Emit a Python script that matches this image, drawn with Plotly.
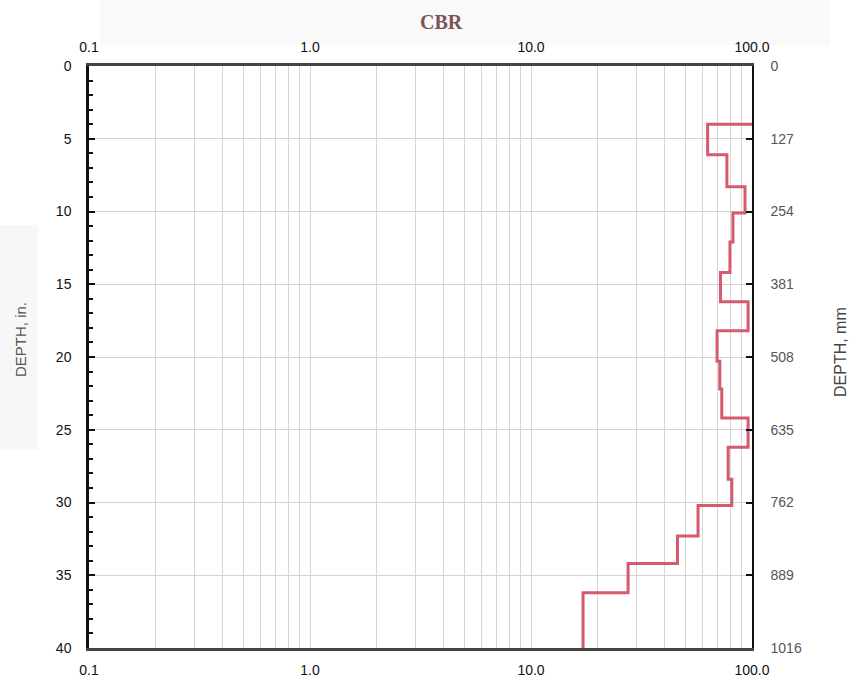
import plotly.graph_objects as go

# CBR profile by layer (depth in inches, CBR in %)
layer_top_in = [4.0, 6.1, 8.3, 10.1, 12.1, 14.2, 16.2, 18.2, 20.3, 22.2,
                24.2, 26.2, 28.4, 30.2, 32.3, 34.2, 36.2]
layer_bottom_in = [6.1, 8.3, 10.1, 12.1, 14.2, 16.2, 18.2, 20.3, 22.2, 24.2,
                   26.2, 28.4, 30.2, 32.3, 34.2, 36.2, 40.0]
layer_cbr = [63, 77, 93, 82, 79.5, 72, 96, 69.5, 71.5, 73,
             96, 78, 81, 57, 46, 27.5, 17.2]

# axis ticks
depth_ticks_in = [0, 5, 10, 15, 20, 25, 30, 35, 40]
depth_ticks_mm = [0, 127, 254, 381, 508, 635, 762, 889, 1016]
cbr_decades = [0.1, 1.0, 10.0, 100.0]
cbr_decade_labels = ["0.1", "1.0", "10.0", "100.0"]

CBR_MIN, CBR_MAX = 0.1, 100.0
DEPTH_MAX_IN = 40
MM_PER_IN = 25.4

# log grid values 0.1..100 with labels on decades only
grid_vals, grid_text = [], []
for d, lab in zip(cbr_decades[:-1], cbr_decade_labels[:-1]):
    for k in range(1, 10):
        grid_vals.append(round(d * k, 6))
        grid_text.append(lab if k == 1 else "")
grid_vals.append(cbr_decades[-1])
grid_text.append(cbr_decade_labels[-1])

# step path: profile enters from the right edge at the first layer top
xs, ys = [CBR_MAX], [layer_top_in[0]]
for top, bot, v in zip(layer_top_in, layer_bottom_in, layer_cbr):
    xs += [v, v]
    ys += [top, bot]

fig = go.Figure()
fig.add_trace(go.Scatter(x=xs, y=ys, mode="lines",
                         line=dict(color="#d35b6c", width=3),
                         showlegend=False, hoverinfo="skip"))
# invisible trace to activate the secondary axes
fig.add_trace(go.Scatter(x=[CBR_MIN], y=[0], xaxis="x2", yaxis="y2",
                         mode="markers", marker=dict(opacity=0),
                         showlegend=False, hoverinfo="skip"))

SANS = "Liberation Sans, Arial, sans-serif"
tick_font = dict(family=SANS, size=14, color="#111")

fig.update_layout(
    width=852, height=681,
    margin=dict(l=89, r=100, t=66, b=33),
    paper_bgcolor="white", plot_bgcolor="white",
    xaxis=dict(type="log", range=[-1, 2], tickvals=grid_vals, ticktext=grid_text,
               showgrid=True, gridcolor="#d6d6d6", gridwidth=1,
               showline=True, linecolor="#444", linewidth=2.5, mirror=False,
               ticks="", tickfont=tick_font, ticklabelstandoff=7,
               automargin=False, zeroline=False),
    xaxis2=dict(type="log", range=[-1, 2], overlaying="x", side="top",
                tickvals=cbr_decades, ticktext=cbr_decade_labels,
                showgrid=False, showline=True, linecolor="#444", linewidth=2.5,
                ticks="", tickfont=tick_font, ticklabelstandoff=6,
                automargin=False, anchor="y"),
    yaxis=dict(range=[DEPTH_MAX_IN, 0], tickvals=depth_ticks_in,
               showgrid=True, gridcolor="#d2d2d2", gridwidth=1,
               showline=True, linecolor="#111", linewidth=2.5,
               ticks="inside", ticklen=6, tickwidth=1.5, tickcolor="#111",
               minor=dict(dtick=1, ticks="inside", ticklen=4, tickwidth=1.5,
                          tickcolor="#111", showgrid=False),
               tickfont=tick_font, ticklabelstandoff=12,
               automargin=False, zeroline=False),
    yaxis2=dict(range=[DEPTH_MAX_IN * MM_PER_IN, 0], tickvals=depth_ticks_mm,
                overlaying="y", side="right", anchor="x",
                showgrid=False, showline=True, linecolor="#111", linewidth=1.5,
                ticks="inside", ticklen=6, tickwidth=1.5, tickcolor="#111",
                tickfont=dict(family=SANS, size=14, color="#555"),
                ticklabelstandoff=14, automargin=False, zeroline=False),
)

# faint header band behind the title
fig.add_shape(type="rect", xref="paper", yref="paper",
              x0=(100 - 89) / 663, x1=(830 - 89) / 663,
              y0=(648 - 45) / 582, y1=(648 - 0) / 582,
              fillcolor="#f9f9f9", line=dict(width=0), layer="below")
# faint band behind the left axis title
fig.add_shape(type="rect", xref="paper", yref="paper",
              x0=(0 - 89) / 663, x1=(38 - 89) / 663,
              y0=(648 - 450) / 582, y1=(648 - 225) / 582,
              fillcolor="#f7f7f7", line=dict(width=0), layer="below")

fig.add_annotation(text="<b>CBR</b>", xref="paper", yref="paper",
                   x=(441 - 89) / 663, y=(648 - 22) / 582,
                   showarrow=False, xanchor="center", yanchor="middle",
                   font=dict(family="Liberation Serif, Times New Roman, serif",
                             size=20, color="#7a5359"))
fig.add_annotation(text="DEPTH, in.", xref="paper", yref="paper",
                   x=(20 - 89) / 663, y=(648 - 340) / 582, textangle=-90,
                   showarrow=False, xanchor="center", yanchor="middle",
                   font=dict(family=SANS, size=15, color="#555"))
fig.add_annotation(text="DEPTH, mm", xref="paper", yref="paper",
                   x=(840 - 89) / 663, y=(648 - 352) / 582, textangle=-90,
                   showarrow=False, xanchor="center", yanchor="middle",
                   font=dict(family=SANS, size=16, color="#444"))

fig.write_html("out.html")
